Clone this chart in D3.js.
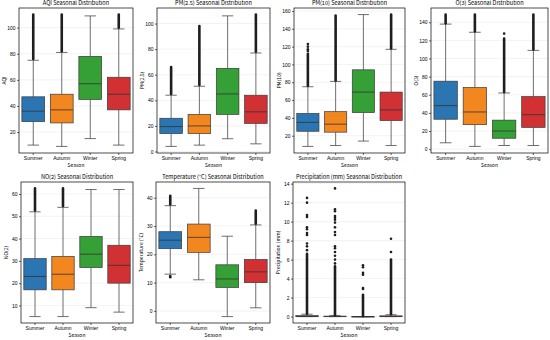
<!DOCTYPE html>
<html>
<head>
<meta charset="utf-8">
<script src="https://cdn.jsdelivr.net/npm/d3@7"></script>
<style>
  body { margin: 0; background: #fff; }
  svg { display: block; font-family: "Noto Sans CJK SC", "DejaVu Sans", sans-serif; }
  .tick text { font-size: 5px; fill: #000; }
  .tick line { stroke: #000; stroke-width: 0.6; }
  .domain { display: none; }
</style>
</head>
<body>
<svg id="chart" width="550" height="340"></svg>
<script>
var seasons = ["Summer", "Autumn", "Winter", "Spring"];
var colors = ["#2b75b2", "#f2861f", "#35a035", "#d23133"];

// [whisker low, q1, median, q3, whisker high]
var aqiStats = [[10, 28, 36, 47, 75], [9, 27, 37, 49, 81], [15, 45, 57, 78, 109], [10, 37, 49, 62, 99]];
var aqiRuns = [[[76, 110]], [[82, 110]], [], [[100, 110]]];
var aqiDots = [[], [], [], []];
var aqiTicks = [20, 40, 60, 80, 100];

var pm25Stats = [[4, 14, 19.5, 26, 44], [5, 14, 20, 29, 51], [10, 29, 45, 65, 106], [6, 22, 31, 44, 77]];
var pm25Runs = [[[45, 66]], [[52, 98]], [], [[78, 107]]];
var pm25Dots = [[], [], [], []];
var pm25Ticks = [0, 20, 40, 60, 80, 100];

var pm10Stats = [[8, 25, 35, 45, 75], [9, 24, 33, 47, 81], [14, 46, 69, 94, 156], [9, 37, 49, 69, 117]];
var pm10Runs = [[[76, 112]], [[82, 155]], [], [[118, 156]]];
var pm10Dots = [[115, 117, 120, 123], [], [], []];
var pm10Ticks = [20, 40, 60, 80, 100, 120, 140, 160];

var o3Stats = [[7, 33, 48, 75, 138], [3, 27, 41, 68, 129], [4, 12, 20, 32, 62], [4, 24, 38, 58, 109]];
var o3Runs = [[[139, 148.5]], [[130, 148.5]], [[63, 122]], [[110, 148.5]]];
var o3Dots = [[], [], [127.5], []];
var o3Ticks = [0, 20, 40, 60, 80, 100, 120, 140];

var no2Stats = [[5, 17, 23, 31, 52], [5, 17, 24, 32, 54], [9, 27, 33, 41, 62], [7, 20, 28, 37, 62]];
var no2Runs = [[[52.6, 62.5]], [[54.6, 62.5]], [], []];
var no2Dots = [[], [], [], []];
var no2Ticks = [10, 20, 30, 40, 50, 60];

var tempStats = [[13, 22, 25, 28, 37.2], [11, 20.7, 26, 30.7, 43.3], [-2, 8.3, 11.3, 16.3, 26.4], [1.1, 10, 13.8, 18.2, 30.4]];
var tempRuns = [[[37.6, 40.7], [11.9, 12.3]], [], [], [[30.8, 35.5]]];
var tempDots = [[], [], [], []];
var tempTicks = [0, 10, 20, 30, 40];

var precStats = [[0, 0, 0, 0.1, 0.25], [0, 0, 0, 0.05, 0.12], [0, 0, 0, 0, 0], [0, 0, 0, 0.08, 0.2]];
var precRuns = [[[0.3, 6.6]], [[0.15, 5.3]], [[0.05, 2.3]], [[0.25, 5.9]]];
var precDots = [
  [7.0, 7.4, 7.7, 8.6, 8.8, 9.2, 9.4, 10.5, 10.7, 12.0, 12.5],
  [5.6, 6.0, 6.4, 6.8, 7.2, 7.4, 8.6, 8.9, 9.4, 9.9, 10.2, 10.4, 10.6, 11.1, 11.3, 13.5],
  [2.9, 3.0, 4.4, 4.6, 5.2, 5.4],
  [6.0, 6.8, 8.2]
];
var precTicks = [0, 2, 4, 6, 8, 10, 12, 14];

var panels = [
  {title: "AQI Seasonal Distribution", ylabel: "AQI", stats: aqiStats, runs: aqiRuns, dots: aqiDots, ticks: aqiTicks,
   box: {x0: 19, x1: 133, y0: 8, y1: 153}},
  {title: "PM(2.5) Seasonal Distribution", ylabel: "PM(2.5)", stats: pm25Stats, runs: pm25Runs, dots: pm25Dots, ticks: pm25Ticks,
   box: {x0: 157, x1: 270, y0: 8, y1: 153}},
  {title: "PM(10) Seasonal Distribution", ylabel: "PM(10)", stats: pm10Stats, runs: pm10Runs, dots: pm10Dots, ticks: pm10Ticks,
   box: {x0: 294, x1: 405, y0: 8, y1: 153}},
  {title: "O(3) Seasonal Distribution", ylabel: "O(3)", stats: o3Stats, runs: o3Runs, dots: o3Dots, ticks: o3Ticks,
   box: {x0: 431, x1: 548, y0: 8, y1: 153}},
  {title: "NO(2) Seasonal Distribution", ylabel: "NO(2)", stats: no2Stats, runs: no2Runs, dots: no2Dots, ticks: no2Ticks,
   box: {x0: 21, x1: 133, y0: 182, y1: 323}},
  {title: "Temperature (°C) Seasonal Distribution", ylabel: "Temperature (°C)", stats: tempStats, runs: tempRuns, dots: tempDots, ticks: tempTicks,
   box: {x0: 156, x1: 270, y0: 182, y1: 323}},
  {title: "Precipitation (mm) Seasonal Distribution", ylabel: "Precipitation (mm)", stats: precStats, runs: precRuns, dots: precDots, ticks: precTicks,
   box: {x0: 293, x1: 405, y0: 182, y1: 323}}
];

var svg = d3.select("#chart");

panels.forEach(function(p){
  var b = p.box;
  var w = b.x1 - b.x0, h = b.y1 - b.y0;

  // data extent incl. fliers, matplotlib-style 5% margin
  var vals = [];
  p.stats.forEach(function(s){ vals = vals.concat(s); });
  p.runs.forEach(function(r){ r.forEach(function(seg){ vals = vals.concat(seg); }); });
  p.dots.forEach(function(d){ vals = vals.concat(d); });
  var ext = d3.extent(vals);
  var pad = (ext[1] - ext[0]) * 0.05;

  var y = d3.scaleLinear().domain([ext[0] - pad, ext[1] + pad]).range([h, 0]);
  var x = d3.scaleBand().domain(seasons).range([0, w]).paddingInner(0.2).paddingOuter(0.1);

  var g = svg.append("g").attr("transform", "translate(" + b.x0 + "," + b.y0 + ")");

  // grid
  g.selectAll(".grid").data(p.ticks).enter().append("line")
      .attr("x1", 0).attr("x2", w)
      .attr("y1", function(d){ return y(d); }).attr("y2", function(d){ return y(d); })
      .attr("stroke", "#e6e6e6").attr("stroke-width", 0.5);

  seasons.forEach(function(s, i){
    var st = p.stats[i];
    var cx = x(s) + x.bandwidth() / 2;
    var bw = x.bandwidth();

    // whiskers
    g.append("line").attr("x1", cx).attr("x2", cx).attr("y1", y(st[0])).attr("y2", y(st[1]))
        .attr("stroke", "#4a4a4a").attr("stroke-width", 0.8);
    g.append("line").attr("x1", cx).attr("x2", cx).attr("y1", y(st[3])).attr("y2", y(st[4]))
        .attr("stroke", "#4a4a4a").attr("stroke-width", 0.8);
    [st[0], st[4]].forEach(function(v){
      g.append("line").attr("x1", cx - bw / 4).attr("x2", cx + bw / 4).attr("y1", y(v)).attr("y2", y(v))
          .attr("stroke", "#4a4a4a").attr("stroke-width", 0.8);
    });

    // box
    g.append("rect")
        .attr("x", x(s)).attr("width", bw)
        .attr("y", y(st[3])).attr("height", Math.max(0.5, y(st[1]) - y(st[3])))
        .attr("fill", colors[i]).attr("stroke", "#3a3a3a").attr("stroke-width", 0.7);
    g.append("line").attr("x1", x(s)).attr("x2", x(s) + bw).attr("y1", y(st[2])).attr("y2", y(st[2]))
        .attr("stroke", "#333").attr("stroke-width", 0.8);

    // dense fliers
    p.runs[i].forEach(function(seg){
      g.append("line").attr("x1", cx).attr("x2", cx).attr("y1", y(seg[0])).attr("y2", y(seg[1]))
          .attr("stroke", "#1e1e1e").attr("stroke-width", 2.6).attr("stroke-linecap", "round");
    });
    // single fliers
    g.selectAll(null).data(p.dots[i]).enter().append("circle")
        .attr("cx", cx).attr("cy", function(d){ return y(d); }).attr("r", 1.3)
        .attr("fill", "#1e1e1e");
  });

  // frame
  g.append("rect").attr("width", w).attr("height", h)
      .attr("fill", "none").attr("stroke", "#000").attr("stroke-width", 0.7);

  g.append("g").call(d3.axisLeft(y).tickValues(p.ticks).tickSize(2).tickPadding(1.5));
  g.append("g").attr("transform", "translate(0," + h + ")")
      .call(d3.axisBottom(x).tickSize(2).tickPadding(1));

  g.append("text").attr("x", w / 2).attr("y", -3).attr("text-anchor", "middle")
      .style("font-size", "5.6px").text(p.title);
  g.append("text").attr("x", w / 2).attr("y", h + 14).attr("text-anchor", "middle")
      .style("font-size", "5px").text("Season");
  g.append("text").attr("transform", "translate(-13," + (h / 2) + ") rotate(-90)")
      .attr("text-anchor", "middle").style("font-size", "5px").text(p.ylabel);
});
</script>
</body>
</html>
